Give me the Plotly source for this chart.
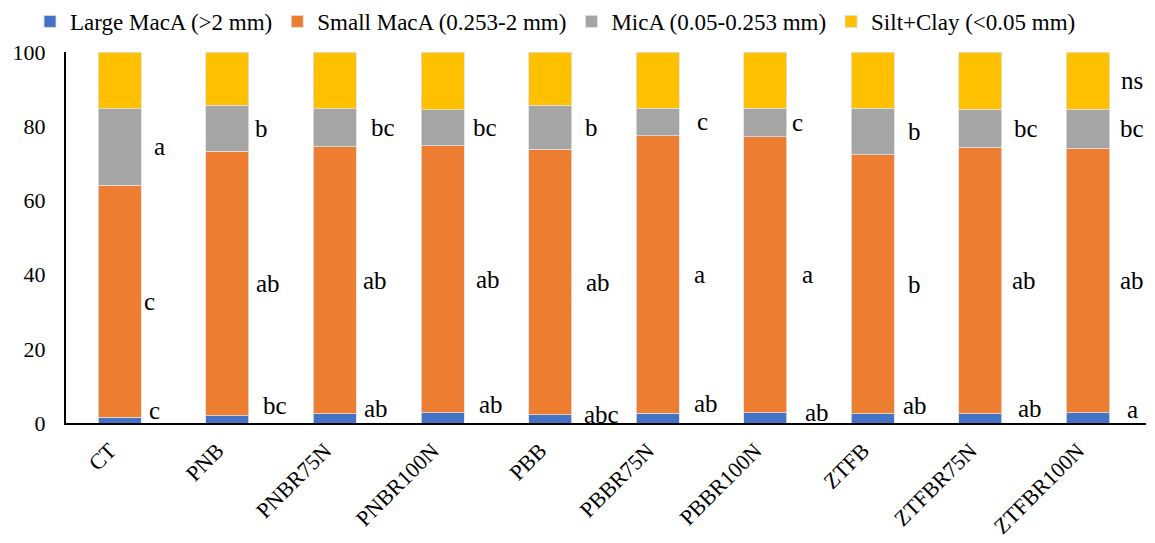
import plotly.graph_objects as go

categories = ["CT", "PNB", "PNBR75N", "PNBR100N", "PBB", "PBBR75N", "PBBR100N", "ZTFB", "ZTFBR75N", "ZTFBR100N"]
large_maca = [1.5, 2.0, 2.5, 2.7, 2.2, 2.6, 2.7, 2.5, 2.5, 2.8]
small_maca = [62.6, 71.3, 71.9, 72.0, 71.6, 74.8, 74.5, 69.8, 71.8, 71.3]
mica = [20.6, 12.3, 10.3, 9.7, 11.8, 7.5, 7.7, 12.6, 10.3, 10.5]
silt_clay = [15.3, 14.4, 15.3, 15.6, 14.4, 15.1, 15.1, 15.1, 15.4, 15.4]

letters_large = ["c", "bc", "ab", "ab", "abc", "ab", "ab", "ab", "ab", "a"]
letters_small = ["c", "ab", "ab", "ab", "ab", "a", "a", "b", "ab", "ab"]
letters_mica = ["a", "b", "bc", "bc", "b", "c", "c", "b", "bc", "bc"]
letters_silt = ["", "", "", "", "", "", "", "", "", "ns"]

series = [
    ("Large MacA (>2 mm)", large_maca, "#4472C4"),
    ("Small MacA (0.253-2 mm)", small_maca, "#ED7D31"),
    ("MicA (0.05-0.253 mm)", mica, "#A5A5A5"),
    ("Silt+Clay (<0.05 mm)", silt_clay, "#FFC000"),
]

FONT = "Liberation Serif"

fig = go.Figure()
for name, vals, col in series:
    fig.add_trace(go.Bar(
        x=categories, y=vals, name=name,
        marker=dict(color=col, line=dict(color="#E0E0E0", width=0.8)),
    ))

# label pixel offsets (style only)
xs_large = [35, 48, 41, 48, 51, 48, 52, 42, 50, 44]
ys_large = [-10, -14, -10, -13, -4, -15, -5, -13, -10, -8]
xs_small = [30, 41, 40, 45, 48, 42, 42, 42, 44, 44]
xs_mica = [40, 34, 48, 42, 41, 45, 32, 42, 46, 44]
xs_silt = [0, 0, 0, 0, 0, 0, 0, 0, 0, 44]

annotations = []
for i, c in enumerate(categories):
    b0 = large_maca[i]
    b1 = b0 + small_maca[i]
    b2 = b1 + mica[i]
    b3 = b2 + silt_clay[i]
    items = [
        (letters_large[i], b0 / 2, xs_large[i], ys_large[i]),
        (letters_small[i], (b0 + b1) / 2, xs_small[i], 0),
        (letters_mica[i], (b1 + b2) / 2, xs_mica[i], 0),
        (letters_silt[i], (b2 + b3) / 2, xs_silt[i], 0),
    ]
    for txt, yv, xs, ys in items:
        if not txt:
            continue
        annotations.append(dict(
            x=c, y=yv, xref="x", yref="y", text=txt, showarrow=False,
            xshift=xs, yshift=-ys, font=dict(family=FONT, size=25, color="black"),
        ))

fig.update_layout(
    barmode="stack",
    bargap=0.6,
    width=1155, height=543,
    margin=dict(l=66, r=9, t=52, b=120, autoexpand=False),
    paper_bgcolor="white", plot_bgcolor="white",
    legend=dict(
        orientation="h", x=0.026, y=1.0, xref="container", yref="container",
        xanchor="left", yanchor="top",
        font=dict(family=FONT, size=23, color="black"),
        itemwidth=30, traceorder="normal",
    ),
    annotations=annotations,
    xaxis=dict(
        showline=True, linecolor="black", linewidth=2, ticks="",
        tickangle=-45, tickfont=dict(family=FONT, size=22, color="black"),
        ticklabelshift=-10, ticklabelstandoff=4,
        showgrid=False, automargin=False,
    ),
    yaxis=dict(
        range=[0, 100], tickvals=[0, 20, 40, 60, 80, 100],
        showline=True, linecolor="black", linewidth=2, ticks="",
        ticklabelstandoff=14,
        showgrid=False, zeroline=False, automargin=False,
        tickfont=dict(family=FONT, size=22, color="black"),
    ),
)

fig.write_html("out.html", config={"displayModeBar": False},
               post_script="document.body.style.margin='0px';")
